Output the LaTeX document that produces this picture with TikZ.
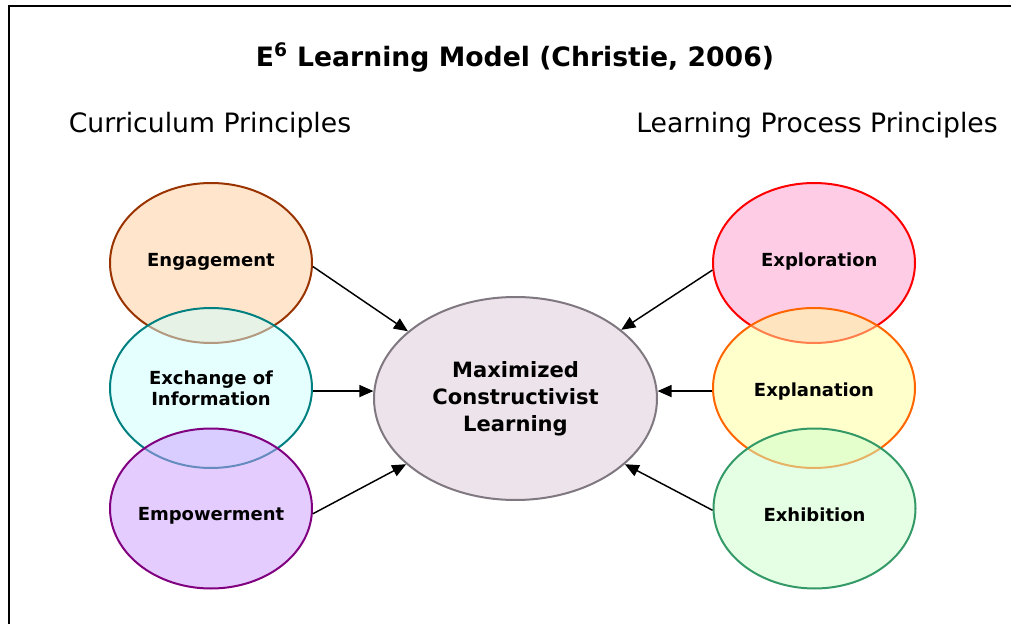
\documentclass[tikz,border=0pt]{standalone}
\usepackage{fontspec}
\setmainfont{DejaVu Sans}
\usetikzlibrary{shapes.geometric,arrows.meta}
\definecolor{engF}{RGB}{255,204,153}
\definecolor{engD}{RGB}{153,51,0}
\definecolor{excF}{RGB}{204,255,255}
\definecolor{excD}{RGB}{0,128,128}
\definecolor{empF}{RGB}{204,153,255}
\definecolor{empD}{RGB}{128,0,128}
\definecolor{explF}{RGB}{255,153,204}
\definecolor{explD}{RGB}{255,0,0}
\definecolor{expnF}{RGB}{255,255,153}
\definecolor{expnD}{RGB}{255,102,0}
\definecolor{exhF}{RGB}{204,255,204}
\definecolor{exhD}{RGB}{51,153,102}
\definecolor{cenF}{RGB}{237,227,234}
\definecolor{cenD}{RGB}{128,120,128}
\newcommand{\zw}[1]{\makebox[0pt]{#1}}
\tikzset{
  bubble/.style={ellipse, line width=1.5pt, fill opacity=0.5, text opacity=1,
    minimum width=151.5pt, minimum height=120pt, inner sep=0pt, align=center,
    font=\fontsize{13.5pt}{15.75pt}\selectfont\bfseries},
  drop/.style={text height=#1, text depth=0pt},
  centre/.style={ellipse, line width=1.5pt, draw=cenD, fill=cenF,
    minimum width=212.25pt, minimum height=152.25pt, inner sep=0pt, align=center,
    font=\fontsize{15.8pt}{20.25pt}\selectfont\bfseries},
  arr/.style={line width=1.1pt, -{Triangle[length=10.5pt,width=9pt]}},
  frame/.style={line width=1.5pt},
  heading/.style={inner sep=0pt, anchor=base, font=\fontsize{20pt}{24pt}\selectfont}
}
\begin{document}
\begin{tikzpicture}[x=0.75pt, y=-0.75pt]
\useasboundingbox (0,0) rectangle (1011,624);
\coordinate (fa) at (8.5,624);
\coordinate (fb) at (8.5,6.5);
\coordinate (fc) at (1011,6.5);
\draw[frame] (fa) -- (fb) -- (fc);
\node[heading, font=\fontsize{20pt}{24pt}\selectfont\bfseries] (title) at (515,67) {E\textsuperscript{6} Learning Model (Christie, 2006)};
\node[heading] (cur) at (210,133) {Curriculum Principles};
\node[heading] (lpp) at (817,133) {Learning Process Principles};
\node[bubble, drop=6pt, draw=engD, fill=engF] (eng) at (211,263) {\zw{Engagement}};
\node[bubble, draw=excD, fill=excF] (exc) at (211,388) {\zw{Exchange of}\\\zw{Information}};
\node[bubble, drop=17.25pt, draw=empD, fill=empF] (emp) at (211,508.5) {\zw{Empowerment}};
\node[bubble, drop=6pt, draw=explD, fill=explF] (expl) at (814,263) {\zw{\hspace{8pt}Exploration}};
\node[bubble, drop=12pt, draw=expnD, fill=expnF] (expn) at (814,388) {\zw{Explanation}};
\node[bubble, drop=20pt, draw=exhD, fill=exhF] (exh) at (814.5,508.5) {\zw{Exhibition}};
\node[centre] (c) at (515.5,398.5) {Maximized\\Constructivist\\Learning};
\draw[arr] (eng.-2) -- (c.148);
\draw[arr] (exc.east |- c.177) -- (c.177);
\draw[arr] (emp.-3) -- (c.211);
\draw[arr] (expl.184) -- (c.33);
\draw[arr] (expn.west |- c.3) -- (c.3);
\draw[arr] (exh.181) -- (c.-31);
\end{tikzpicture}
\end{document}
